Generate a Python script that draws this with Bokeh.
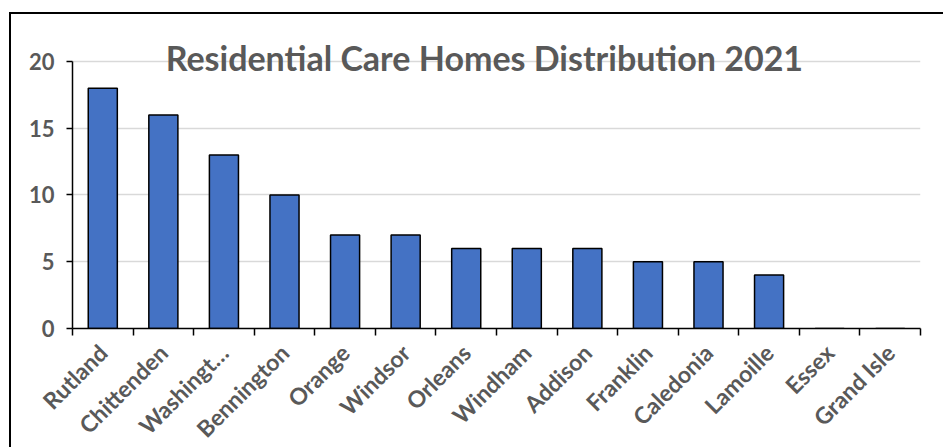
from math import pi
from bokeh.plotting import figure
from bokeh.models import (ColumnDataSource, Range1d, LinearAxis,
                          FixedTicker, Label)
from bokeh.embed import file_html
from bokeh.resources import INLINE

counties = ["Rutland", "Chittenden", "Washingt\u2026", "Bennington", "Orange",
            "Windsor", "Orleans", "Windham", "Addison", "Franklin",
            "Caledonia", "Lamoille", "Essex", "Grand Isle"]
homes = [18, 16, 13, 10, 7, 7, 6, 6, 6, 5, 5, 4, 0, 0]
y_ticks = [0, 5, 10, 15, 20]
title_text = "Residential Care Homes Distribution 2021"

FONT = "Lato"
GRAY = "#595959"

n = len(counties)
centers = [i + 0.5 for i in range(n)]
src = ColumnDataSource(dict(x=centers, county=counties, homes=homes))

# frame extends above the 20 line so the title (which overlaps it) is not clipped
p = figure(width=934, height=441, x_range=Range1d(0, n),
           y_range=Range1d(0, 22.32), output_backend="svg", toolbar_location=None,
           x_axis_location=None, y_axis_location=None,
           min_border_left=61, min_border_right=25, min_border_top=16,
           min_border_bottom=127)
p.margin = (12, 0, 0, 9)
p.styles = {"border-left": "2px solid black", "border-top": "2px solid black"}
p.outline_line_color = None
p.background_fill_color = "white"
p.border_fill_color = "white"

p.vbar(x="x", top="homes", width=0.48, source=src,
       fill_color="#4472C4", line_color="black", line_width=1.5)

# y axis
yax = LinearAxis(ticker=FixedTicker(ticks=y_ticks), bounds=(0, 20))
yax.axis_line_color = "black"
yax.axis_line_width = 1.5
yax.major_tick_line_color = "black"
yax.major_tick_line_width = 1.5
yax.major_tick_out = 6
yax.major_tick_in = 0
yax.minor_tick_line_color = None
yax.major_label_text_font = FONT
yax.major_label_text_font_style = "bold"
yax.major_label_text_font_size = "22px"
yax.major_label_text_color = GRAY
yax.major_label_standoff = 12
p.add_layout(yax, "left")

# x tick axis at category boundaries
tax = LinearAxis(ticker=FixedTicker(ticks=list(range(n + 1))))
tax.axis_line_color = "black"
tax.axis_line_width = 1.5
tax.major_tick_line_color = "black"
tax.major_tick_line_width = 1.5
tax.major_tick_out = 7
tax.major_tick_in = 0
tax.minor_tick_line_color = None
tax.major_label_text_font_size = "0px"
tax.major_label_text_color = None
tax.major_label_standoff = 0
p.add_layout(tax, "below")

# x label axis at category centers
lax = LinearAxis(ticker=FixedTicker(ticks=centers))
lax.major_label_overrides = {c: name for c, name in zip(centers, counties)}
lax.axis_line_color = None
lax.major_tick_line_color = None
lax.minor_tick_line_color = None
lax.major_tick_out = 0
lax.major_tick_in = 0
lax.major_label_orientation = pi / 4
lax.major_label_text_font = FONT
lax.major_label_text_font_style = "bold"
lax.major_label_text_font_size = "23px"
lax.major_label_text_color = GRAY
lax.major_label_standoff = 13
p.add_layout(lax, "below")

p.ygrid.ticker = FixedTicker(ticks=y_ticks)
p.ygrid.grid_line_color = "#d9d9d9"
p.ygrid.grid_line_width = 1.5
p.xgrid.grid_line_color = None

title = Label(x=6.8, y=20.3, text=title_text,
              text_font=FONT, text_font_style="bold", text_font_size="34px",
              text_color=GRAY, text_align="center", text_baseline="alphabetic")
p.add_layout(title)

open("out.html", "w").write(file_html(p, INLINE))
